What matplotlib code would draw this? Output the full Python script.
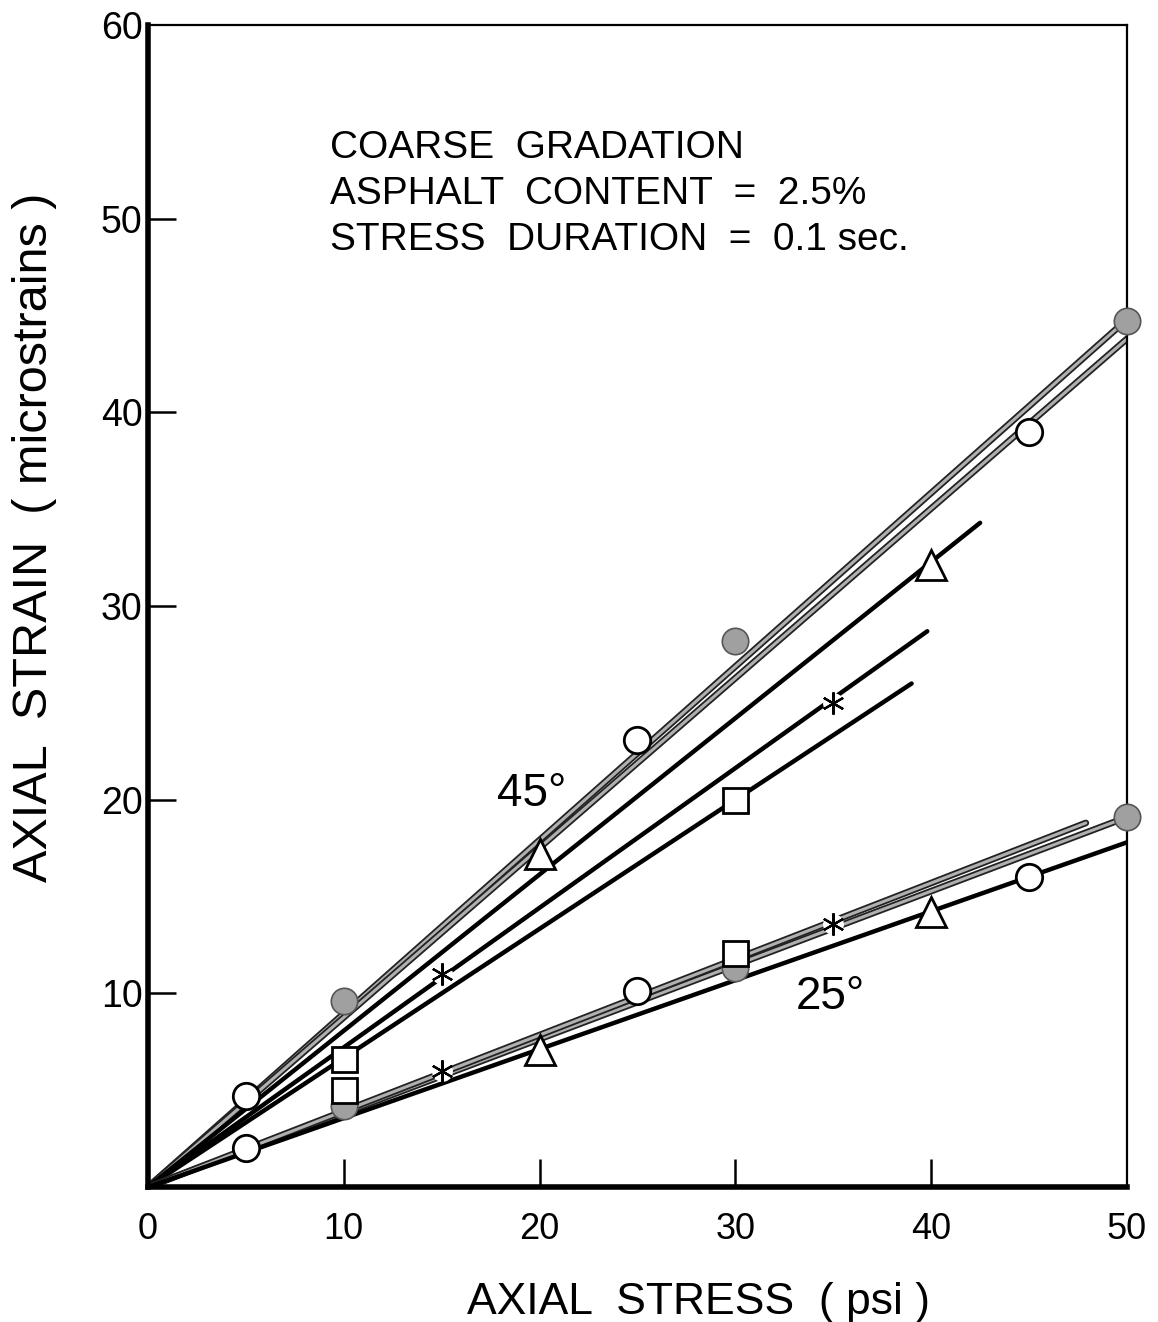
import matplotlib
matplotlib.use("Agg")
import matplotlib.pyplot as plt
import matplotlib.patheffects as pe

plt.rcParams['font.family'] = ['Liberation Sans', 'DejaVu Sans']

# ---- measured points (axial stress in psi, axial strain in microstrains) ----
# 45 degree specimens
stress_45_filled = [10, 30, 50]
strain_45_filled = [9.6, 28.2, 44.7]
stress_45_open = [5, 25, 45]
strain_45_open = [4.7, 23.1, 39.0]
stress_45_tri = [20, 40]
strain_45_tri = [17.2, 32.1]
stress_45_star = [15, 35]
strain_45_star = [11.0, 25.0]
stress_45_sq = [10, 30]
strain_45_sq = [6.6, 20.0]

# 25 degree specimens
stress_25_filled = [10, 30, 50]
strain_25_filled = [4.2, 11.3, 19.1]
stress_25_open = [5, 25, 45]
strain_25_open = [2.0, 10.1, 16.0]
stress_25_tri = [20, 40]
strain_25_tri = [7.1, 14.2]
stress_25_star = [15, 35]
strain_25_star = [6.0, 13.6]
stress_25_sq = [10, 30]
strain_25_sq = [5.0, 12.1]

# ---- fitted lines through the origin: end stress, end strain, screened? ----
fit_end_stress = [50, 50, 42.5, 39.8, 39.0, 50, 47.9, 50]
fit_end_strain = [44.8, 43.8, 34.3, 28.7, 26.0, 19.1, 18.8, 17.8]
fit_screened = [True, True, False, False, False, True, True, False]

x_ticks = [0, 10, 20, 30, 40, 50]
y_ticks = [10, 20, 30, 40, 50, 60]

fig = plt.figure(figsize=(11.58, 13.22), dpi=100)
ax = fig.add_axes([0.1278, 0.1021, 0.8454, 0.8789])
ax.set_xlim(0, 50)
ax.set_ylim(0, 60)

# fitted lines
for xe, ye, scr in zip(fit_end_stress, fit_end_strain, fit_screened):
    if scr:
        ax.plot([0, xe], [0, ye], color='#b0b0b0', lw=2.2, zorder=2,
                solid_capstyle='round',
                path_effects=[pe.Stroke(linewidth=4.8, foreground='#222222'),
                              pe.Normal()])
    else:
        ax.plot([0, xe], [0, ye], color='black', lw=3.2, zorder=2,
                solid_capstyle='round')

msz_circle = 19
msz_tri = 21
msz_sq = 18
star_marker = (6, 2, 0)

for xs, ys in [(stress_45_filled, strain_45_filled),
               (stress_25_filled, strain_25_filled)]:
    ax.plot(xs, ys, 'o', ms=msz_circle, mfc='#a0a0a0', mec='#555555',
            mew=1.2, ls='none', zorder=5, clip_on=False)

for xs, ys in [(stress_45_open, strain_45_open),
               (stress_25_open, strain_25_open)]:
    ax.plot(xs, ys, 'o', ms=msz_circle, mfc='white', mec='black',
            mew=2.0, ls='none', zorder=5)

for xs, ys in [(stress_45_tri, strain_45_tri),
               (stress_25_tri, strain_25_tri)]:
    ax.plot(xs, ys, '^', ms=msz_tri, mfc='white', mec='black',
            mew=2.0, ls='none', zorder=5)

for xs, ys in [(stress_45_sq, strain_45_sq),
               (stress_25_sq, strain_25_sq)]:
    ax.plot(xs, ys, 's', ms=msz_sq, mfc='white', mec='black',
            mew=2.0, ls='none', zorder=5)

for xs, ys in [(stress_45_star, strain_45_star),
               (stress_25_star, strain_25_star)]:
    ax.plot(xs, ys, 'o', ms=15, mfc='white', mec='none', ls='none', zorder=4)
    ax.plot(xs, ys, marker=star_marker, ms=16, mec='black', mew=1.6,
            ls='none', zorder=5)

# frame: heavy left/bottom axes, light top/right border
for side, w in [('left', 4.0), ('bottom', 4.0), ('top', 1.6), ('right', 1.6)]:
    ax.spines[side].set_linewidth(w)
    ax.spines[side].set_color('black')

ax.set_xticks(x_ticks)
ax.set_yticks(y_ticks)
ax.set_xticklabels([str(v) for v in x_ticks], fontsize=26)
ax.set_yticklabels([str(v) for v in y_ticks], fontsize=27)
ax.tick_params(axis='both', direction='in', length=20, width=1.8)
ax.tick_params(axis='x', pad=18)
ax.tick_params(axis='y', pad=4)
for t in ax.xaxis.get_major_ticks():
    if t.get_loc() in (0, 50):
        t.tick1line.set_visible(False)
for t in ax.yaxis.get_major_ticks():
    if t.get_loc() == 60:
        t.tick1line.set_visible(False)

ax.set_xlabel('AXIAL  STRESS  ( psi )', fontsize=32)
ax.xaxis.set_label_coords(0.562, -0.082)
ax.set_ylabel('AXIAL  STRAIN  ( microstrains )', fontsize=35)
ax.yaxis.set_label_coords(-0.093, 0.559)

ax.text(9.3, 54.6,
        'COARSE  GRADATION\nASPHALT  CONTENT  =  2.5%\nSTRESS  DURATION  =  0.1 sec.',
        fontsize=28, va='top', ha='left', linespacing=1.36)
ax.text(17.8, 19.7, '45°', fontsize=33, ha='left', va='baseline')
ax.text(33.1, 9.2, '25°', fontsize=33, ha='left', va='baseline')

fig.savefig('out.png', dpi=100, facecolor='white')
